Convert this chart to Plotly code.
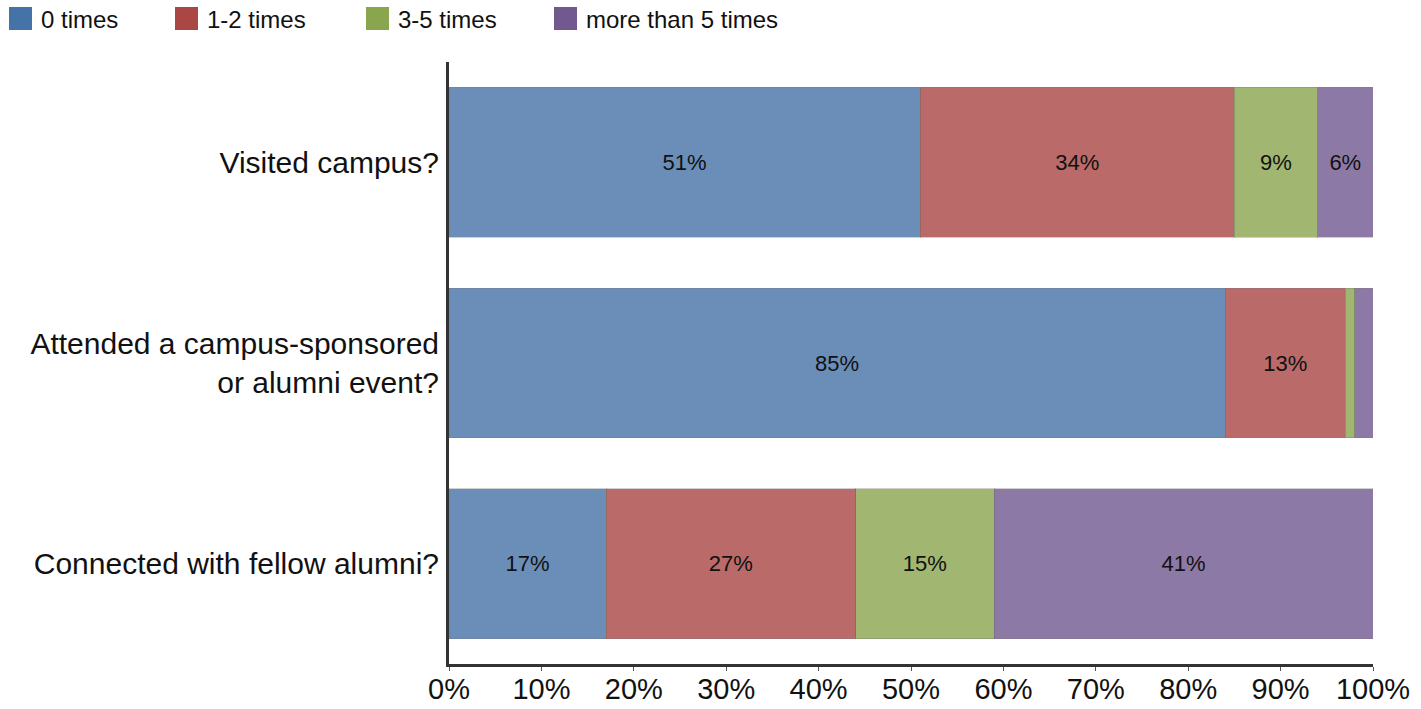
import plotly.graph_objects as go

categories = ["Visited campus?", "Attended a campus-sponsored<br>or alumni event?", "Connected with fellow alumni?"]
series_names = ["0 times", "1-2 times", "3-5 times", "more than 5 times"]
values = {
    "0 times": [51, 84, 17],
    "1-2 times": [34, 13, 27],
    "3-5 times": [9, 1, 15],
    "more than 5 times": [6, 2, 41],
}
labels = {
    "0 times": ["51%", "85%", "17%"],
    "1-2 times": ["34%", "13%", "27%"],
    "3-5 times": ["9%", "", "15%"],
    "more than 5 times": ["6%", "", "41%"],
}
colors = ["#4572A7", "#AA4643", "#89A54E", "#71588F"]
x_ticks = [0, 10, 20, 30, 40, 50, 60, 70, 80, 90, 100]
x_tick_text = ["0%", "10%", "20%", "30%", "40%", "50%", "60%", "70%", "80%", "90%", "100%"]

W, H = 1421, 709
L, T = 449, 62
PR, PB = 1373, 664
R, B = W - PR, H - PB
pw = PR - L
ph = PB - T

FONT = "Liberation Sans, Arial, sans-serif"

fig = go.Figure()
for name, col in zip(series_names, colors):
    fig.add_trace(go.Bar(
        y=categories, x=values[name], orientation="h", name=name,
        marker=dict(color=col, opacity=0.8, line=dict(color="rgba(90,90,90,0.35)", width=1)),
        text=labels[name], textposition="inside", insidetextanchor="middle",
        textfont=dict(size=22, color="#111111", family=FONT),
        textangle=0, showlegend=False, hoverinfo="skip",
    ))

# manual legend (screen px -> paper)
shapes = []
annotations = []
sq_x = [9, 175, 366, 554]
sq_top, sq_bot, sq_w = 7, 30, 23
for name, col, px in zip(series_names, colors, sq_x):
    x0 = (px - L) / pw
    x1 = (px + sq_w - L) / pw
    y0 = (PB - sq_bot) / ph
    y1 = (PB - sq_top) / ph
    shapes.append(dict(type="rect", xref="paper", yref="paper", x0=x0, x1=x1, y0=y0, y1=y1,
                       fillcolor=col, line=dict(width=0)))
    annotations.append(dict(xref="paper", yref="paper", x=(px + sq_w + 7 - L) / pw,
                            y=(PB - 19) / ph,
                            text=name, showarrow=False, xanchor="left", yanchor="middle",
                            font=dict(size=24, color="#111111", family=FONT)))

fig.update_layout(
    width=W, height=H,
    margin=dict(l=L, r=R, t=T, b=B, pad=0, autoexpand=False),
    barmode="stack", bargap=0.253,
    plot_bgcolor="white", paper_bgcolor="white",
    font=dict(family=FONT, color="#111111"),
    shapes=shapes, annotations=annotations,
    xaxis=dict(range=[0, 100], tickvals=x_ticks, ticktext=x_tick_text, showgrid=False, zeroline=False,
               showline=True, linecolor="#333333", linewidth=3, ticks="outside", ticklen=4,
               tickcolor="#555555", tickfont=dict(size=29, color="#111111"), fixedrange=True,
               automargin=False, ticklabelstandoff=-7),
    yaxis=dict(autorange="reversed", showgrid=False, zeroline=False, showline=True,
               linecolor="#333333", linewidth=3, ticks="", ticklabelstandoff=1,
               tickfont=dict(size=30, color="#111111"), automargin=False, fixedrange=True),
)

fig.write_html("out.html", config={"displayModeBar": False},
               post_script="document.body.style.margin='0';")
